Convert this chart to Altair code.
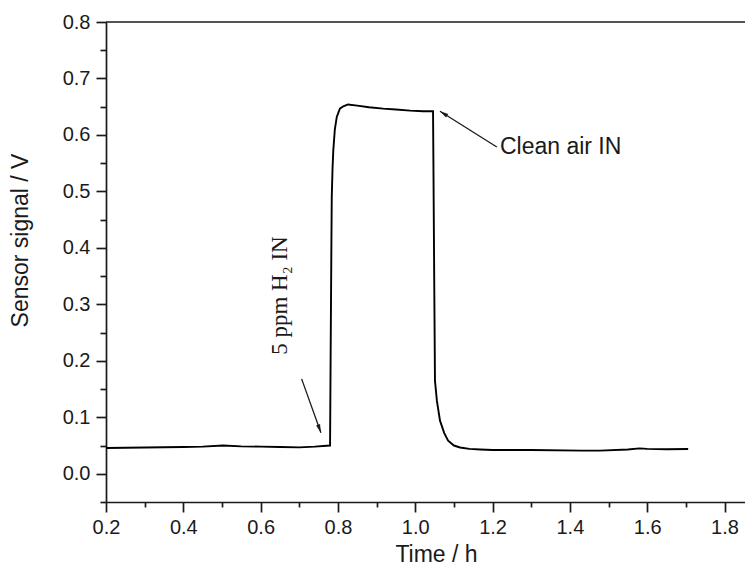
import altair as alt
import pandas as pd

# ---- data ----
time_h = [0.20, 0.25, 0.30, 0.35, 0.40, 0.45, 0.503, 0.55, 0.60, 0.65, 0.70, 0.74, 0.771, 0.7796,
          0.781, 0.783, 0.784, 0.786, 0.788, 0.792, 0.797, 0.805, 0.814, 0.826, 0.85, 0.88, 0.917,
          0.95, 0.987, 1.02, 1.046, 1.047, 1.049, 1.051, 1.056, 1.064, 1.075, 1.085, 1.10, 1.116,
          1.14, 1.168, 1.20, 1.30, 1.43, 1.478, 1.55, 1.58, 1.60, 1.65, 1.706]
signal_v = [0.0455, 0.046, 0.0465, 0.047, 0.0475, 0.048, 0.050, 0.0485, 0.048, 0.0475, 0.0467, 0.048, 0.0496, 0.050,
            0.20, 0.40, 0.49, 0.54, 0.573, 0.61, 0.632, 0.6466, 0.6507, 0.654, 0.652, 0.649, 0.6466,
            0.645, 0.643, 0.642, 0.642, 0.55, 0.35, 0.165, 0.129, 0.094, 0.072, 0.0585, 0.050, 0.0466,
            0.044, 0.043, 0.042, 0.042, 0.041, 0.041, 0.043, 0.045, 0.044, 0.0435, 0.0438]

x_major = [0.2, 0.4, 0.6, 0.8, 1.0, 1.2, 1.4, 1.6, 1.8]
x_minor = [0.3, 0.5, 0.7, 0.9, 1.1, 1.3, 1.5, 1.7]
y_major = [0.0, 0.1, 0.2, 0.3, 0.4, 0.5, 0.6, 0.7, 0.8]
y_minor = [-0.05, 0.05, 0.15, 0.25, 0.35, 0.45, 0.55, 0.65, 0.75]

x_title = "Time / h"
y_title = "Sensor signal / V"

label_h2 = "5 ppm H₂ IN"
label_h2_x = [0.668]
label_h2_y = [0.3156]
label_air = "Clean air IN"
label_air_x = [1.219]
label_air_y = [0.567]

arrow_x = [0.706, 1.211]
arrow_y = [0.168, 0.5786]
arrow_x2 = [0.756, 1.064]
arrow_y2 = [0.0727, 0.642]
arrow_angle = [160, 302]

top_frame_y = [0.8]

# ---- chart ----
df = pd.DataFrame({"t": time_h, "v": signal_v})
xs = alt.Scale(domain=[0.2, 1.853], nice=False, zero=False)
ys = alt.Scale(domain=[-0.05, 0.8], nice=False, zero=False)

INK = "#1a1a1a"
AX = dict(domainColor=INK, domainWidth=1.7, tickColor=INK, tickWidth=1.7,
          labelColor=INK, labelFont="Liberation Sans", labelFontSize=20,
          labelFlush=False, labelOverlap=False,
          titleColor=INK, titleFont="Liberation Sans", titleFontSize=23,
          titleFontWeight="normal", grid=False)

line = alt.Chart(df).mark_line(color="black", strokeWidth=1.9).encode(
    x=alt.X("t:Q", scale=xs, axis=alt.Axis(values=x_major, format=".1f", title=x_title,
                                           orient="bottom", tickSize=10, labelPadding=5,
                                           titleX=330, titleY=59, titleBaseline="alphabetic",
                                           titleAnchor="middle", **AX)),
    y=alt.Y("v:Q", scale=ys, axis=alt.Axis(values=y_major, format=".1f", title=y_title,
                                           orient="left", tickSize=10, labelPadding=6,
                                           titleX=-79, titleY=218, titleBaseline="alphabetic",
                                           titleAngle=270, titleAlign="center", **AX)),
)

minor = alt.Chart(df).mark_point(opacity=0).encode(
    x=alt.X("t:Q", scale=xs, axis=alt.Axis(values=x_minor, labels=False, title="", orient="bottom",
                                           tickSize=5, domain=False, tickColor=INK,
                                           tickWidth=1.7, grid=False)),
    y=alt.Y("v:Q", scale=ys, axis=alt.Axis(values=y_minor, labels=False, title="", orient="left",
                                           tickSize=6, domain=False, tickColor=INK,
                                           tickWidth=1.7, grid=False)),
)

top_rule = alt.Chart(pd.DataFrame({"y": top_frame_y})).mark_rule(color=INK, strokeWidth=1.7).encode(
    y=alt.Y("y:Q", scale=ys, axis=None)
)

arrows_df = pd.DataFrame({"x": arrow_x, "y": arrow_y, "x2": arrow_x2, "y2": arrow_y2, "a": arrow_angle})
arrow_lines = alt.Chart(arrows_df).mark_rule(color=INK, strokeWidth=1.3).encode(
    x=alt.X("x:Q", scale=xs, axis=None), y=alt.Y("y:Q", scale=ys, axis=None),
    x2="x2:Q", y2="y2:Q",
)
arrow_heads = alt.Chart(arrows_df).mark_point(
    shape="M0,0L0.4,1.6L-0.4,1.6Z", filled=True, color=INK, opacity=1, size=110
).encode(
    x=alt.X("x2:Q", scale=xs, axis=None), y=alt.Y("y2:Q", scale=ys, axis=None),
    angle=alt.Angle("a:Q", scale=None),
)

h2_df = pd.DataFrame({"x": label_h2_x, "y": label_h2_y, "txt": [label_h2]})
h2_text = alt.Chart(h2_df).mark_text(
    font="Liberation Serif", fontSize=23, angle=270, align="center", baseline="alphabetic", color=INK
).encode(x=alt.X("x:Q", scale=xs, axis=None), y=alt.Y("y:Q", scale=ys, axis=None), text="txt:N")

air_df = pd.DataFrame({"x": label_air_x, "y": label_air_y, "txt": [label_air]})
air_text = alt.Chart(air_df).mark_text(
    font="Liberation Sans", fontSize=23, align="left", baseline="alphabetic", color=INK
).encode(x=alt.X("x:Q", scale=xs, axis=None), y=alt.Y("y:Q", scale=ys, axis=None), text="txt:N")

chart = alt.layer(minor, line, top_rule, arrow_lines, arrow_heads, h2_text, air_text).resolve_axis(
    x="independent", y="independent"
).properties(
    width=639, height=480,
    autosize=alt.AutoSizeParams(type="none"),
    padding={"left": 98, "top": 14, "right": 0, "bottom": 64},
).configure_view(strokeWidth=0)

chart.save("out.html", embed_options={"renderer": "svg", "actions": False})
